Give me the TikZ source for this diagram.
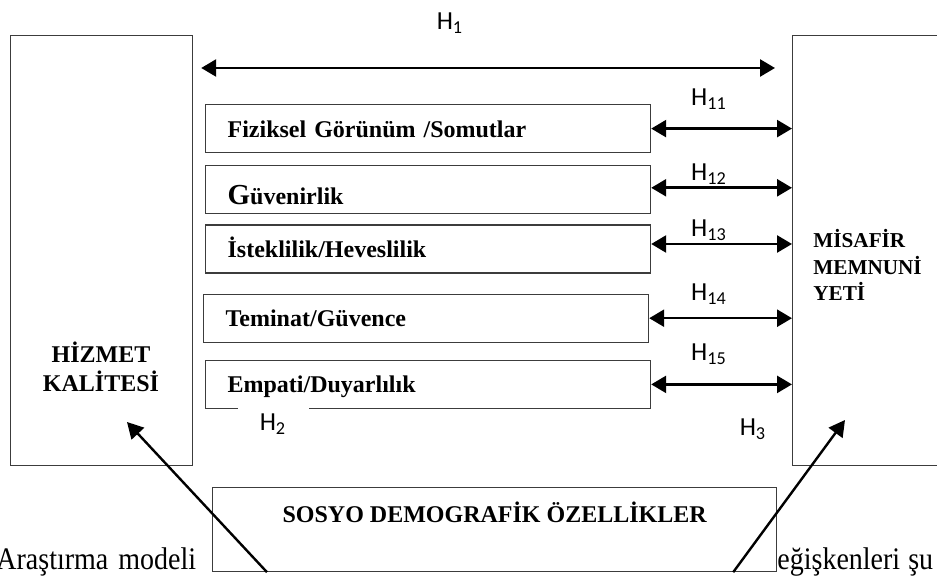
\documentclass[tikz,border=0pt]{standalone}
\usepackage{fontspec}
\setmainfont{Liberation Serif}
\newfontfamily\hfont{Carlito}
\usetikzlibrary{positioning, arrows.meta, calc}
\definecolor{LineGry}{HTML}{3c3c3c}

\begin{document}
\begin{tikzpicture}[x=0.5pt, y=-0.5pt,
    bigbox/.style={draw=LineGry, line width=0.6pt, fill=white, anchor=north west, inner sep=0pt},
    dimbox/.style={draw=LineGry, line width=0.6pt, anchor=north west,
      minimum width=222.5pt, minimum height=24pt, inner xsep=11pt, inner ysep=0pt,
      text width=200.5pt, align=left, text height=8.5pt, text depth=0pt,
      font=\fontsize{12}{14}\selectfont\bfseries},
    boxtxt/.style={font=\fontsize{12}{14.5}\selectfont\bfseries, inner sep=0pt},
    bodytxt/.style={font=\fontsize{14}{17}\selectfont, inner sep=0pt},
    hlab/.style={font=\hfont\fontsize{13}{15}\selectfont, inner sep=1pt},
    hyp/.style={{Triangle[length=7.5pt,width=8.5pt]}-{Triangle[length=7.5pt,width=8.5pt]}, line width=1.3pt},
    toarr/.style={-{Triangle[length=8pt,width=8.5pt]}, line width=1.2pt}]
  \useasboundingbox (0,0) rectangle (937,576);

  % body text behind the model
  \node[bodytxt, anchor=base west] (bodyl) at (-4,570) {\scalebox{1}[1.12]{Araştırma\hspace{5pt}modeli}};
  \node[bodytxt, anchor=base west] (bodyr) at (777,570) {\scalebox{1}[1.12]{eğişkenleri\hspace{4pt}şu}};

  % main blocks
  \node[bigbox, minimum width=91pt, minimum height=215pt] (hiz) at (10,35) {};
  \node[bigbox, minimum width=84pt, minimum height=215pt] (msf) at (792,35) {};
  \node[bigbox, minimum width=282pt, minimum height=42pt] (sosyo) at (212,487) {};
  \node[boxtxt, align=center] (hiztxt) at (101,367) {HİZMET\\KALİTESİ};
  \node[boxtxt, align=left, anchor=west, font=\fontsize{10.6}{13.25}\selectfont\bfseries] (msftxt) at (813,265) {MİSAFİR\\MEMNUNİ\\YETİ};
  \node[boxtxt] (sosyotxt) at ($(sosyo.north)+(0,25)$) {SOSYO DEMOGRAFİK ÖZELLİKLER};

  % dimensions
  \node[dimbox] (fiz) at (205,104) {Fiziksel Görünüm /Somutlar};
  \node[dimbox, below=6pt of fiz] (guv) {\raisebox{-3pt}{{\fontsize{14.5}{14}\selectfont G}üvenirlik}};
  \node[dimbox, below=5pt of guv] (ist) {İsteklilik/Heveslilik};
  \node[dimbox, below=10pt of ist, xshift=-1pt] (tem) {Teminat/Güvence};
  \node[dimbox, below=8.5pt of tem, xshift=1pt] (emp) {Empati/Duyarlılık};

  % H1 arrow
  \coordinate (h1l) at ($(hiz.north east)+(8,33)$);
  \coordinate (h1r) at ($(msf.north west)+(-17,33)$);
  \draw[hyp] (h1l) -- (h1r);
  \node[hlab] (h1) at (450,23) {H\textsubscript{1}};

  % H11 - H15 arrows
  \draw[hyp] (fiz.east) -- (fiz.east -| msf.west);
  \draw[hyp] ($(guv.east)+(0,-2)$) -- ($(guv.east -| msf.west)+(0,-2)$);
  \draw[hyp] ($(ist.east)+(0,-5)$) -- ($(ist.east -| msf.west)+(0,-5)$);
  \draw[hyp] (tem.east) -- (tem.east -| msf.west);
  \draw[hyp] (emp.east) -- (emp.east -| msf.west);
  \node[hlab] (h11) at (709,99) {H\textsubscript{11}};
  \node[hlab] (h12) at (709,174) {H\textsubscript{12}};
  \node[hlab] (h13) at (709,230) {H\textsubscript{13}};
  \node[hlab] (h14) at (709,294) {H\textsubscript{14}};
  \node[hlab] (h15) at (709,354) {H\textsubscript{15}};

  % H2 and H3 arrows
  \coordinate (hizin) at (127,422);
  \coordinate (msfin) at (845,420);
  \draw[toarr] ($(sosyo.south west)+(55,0)$) -- (hizin);
  \draw[toarr] ($(sosyo.south east)+(-44,0)$) -- (msfin);
  \node[hlab, fill=white, minimum width=35.5pt, minimum height=23pt] (h2) at (273,424) {H\textsubscript{2}};
  \node[hlab] (h3) at (753,429) {H\textsubscript{3}};
\end{tikzpicture}
\end{document}
